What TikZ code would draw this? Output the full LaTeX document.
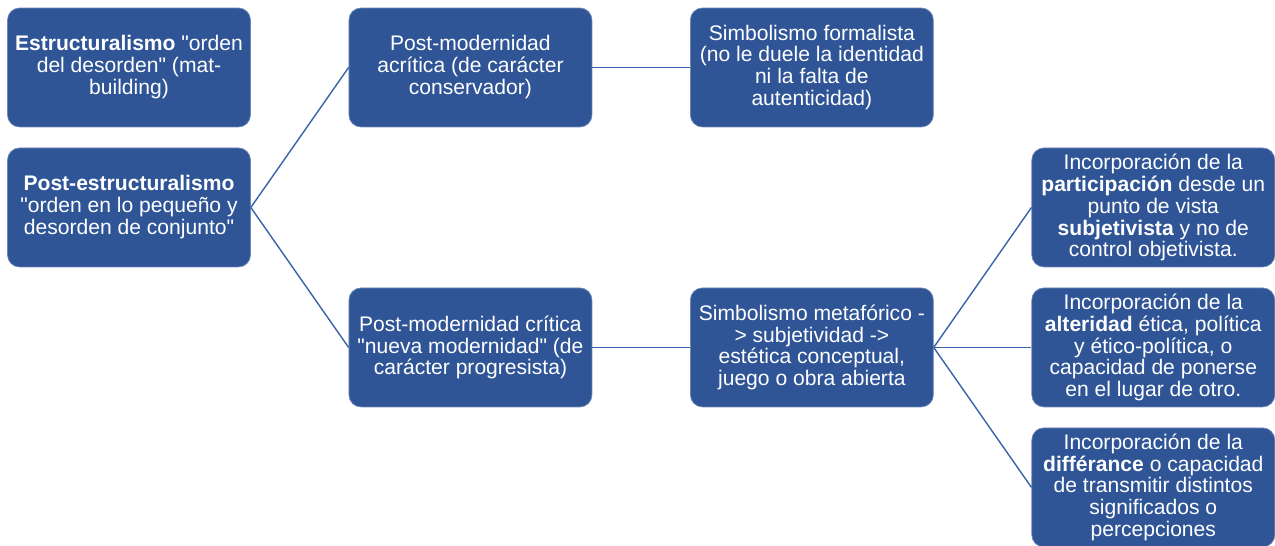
\documentclass[tikz,border=0pt]{standalone}
\usepackage{fontspec}
\setmainfont{Liberation Sans}
\definecolor{boxblue}{HTML}{2F5597}
\definecolor{lineblue}{HTML}{3A62A8}
\newcommand{\qt}{\textquotedbl}
\begin{document}
\begin{tikzpicture}[x=0.02cm, y=-0.02cm, node distance=6.83cm,
    box/.style={draw=boxblue!70!white, line width=0.4pt, fill=boxblue, text=white, rounded corners=0.24cm,
      minimum height=2.38cm, minimum width=4.86cm, align=center, inner sep=2pt,
      font=\fontsize{12}{12.5}\selectfont},
    link/.style={draw=lineblue, line width=0.8pt}]
    \useasboundingbox (0,0) rectangle (1275,546);
    \begin{scope}
    \clip (0,0) rectangle (1275,546);
    \node[box] (estr) at (129,67.5) {\textbf{Estructuralismo} \qt orden\\del desorden\qt{} (mat-\\building)};
    \node[box, below of=estr, node distance=2.8cm] (post) {\textbf{Post-estructuralismo}\\\qt orden en lo pequeño y\\desorden de conjunto\qt};
    \node[box, right of=estr] (acrit) {Post-modernidad\\acrítica (de carácter\\conservador)};
    \node[box, below of=acrit, node distance=5.6cm] (crit) {Post-modernidad crítica\\\qt nueva modernidad\qt{} (de\\carácter progresista)};
    \node[box, right of=acrit] (form) {Simbolismo formalista\\(no le duele la identidad\\ni la falta de\\autenticidad)};
    \node[box, right of=crit] (meta) {Simbolismo metafórico -\\> subjetividad ->\\estética conceptual,\\juego o obra abierta};
    \node[box, right of=meta] (alter) {Incorporación de la\\\textbf{alteridad} ética, política\\y ético-política, o\\capacidad de ponerse\\en el lugar de otro.};
    \node[box, above of=alter, node distance=2.8cm] (partic) {Incorporación de la\\\textbf{participación} desde un\\punto de vista\\\textbf{subjetivista} y no de\\control objetivista.};
    \node[box, below of=alter, node distance=2.8cm] (differ) {Incorporación de la\\\textbf{différance} o capacidad\\de transmitir distintos\\significados o\\percepciones};
    \end{scope}
    % connectors
    \draw[link] (post.east) -- (acrit.west);
    \draw[link] (post.east) -- (crit.west);
    \draw[link] (acrit.east) -- (form.west);
    \draw[link] (crit.east) -- (meta.west);
    \foreach \n in {partic, alter, differ}
      \draw[link] (meta.east) -- (\n.west);
\end{tikzpicture}
\end{document}
